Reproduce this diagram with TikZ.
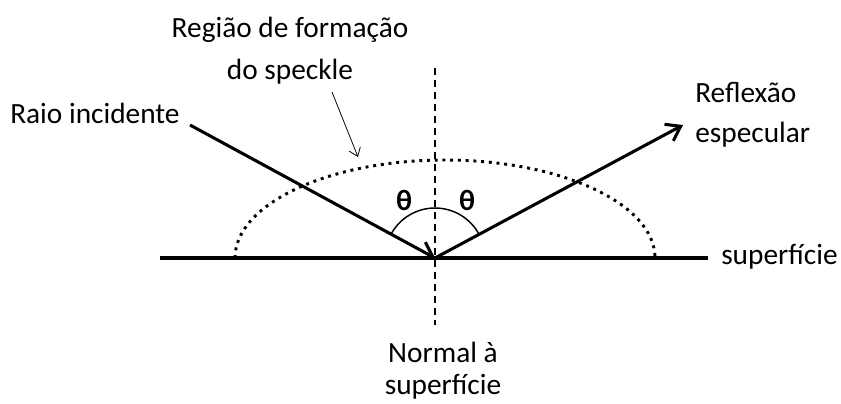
\documentclass[tikz,border=0pt]{standalone}
\usepackage{fontspec}
\setmainfont{Carlito}
\usetikzlibrary{arrows.meta}
\begin{document}
\begin{tikzpicture}[
  x=0.75pt, y=-0.75pt,
  every node/.style={font=\fontsize{22}{26}\selectfont, inner sep=0pt},
  surface/.style={line width=2.3pt},
  ray/.style={line width=2.3pt, -{Straight Barb[length=10pt,width=14pt]}},
  normal/.style={line width=1.3pt, dash pattern=on 5pt off 4pt},
  region/.style={line width=2.2pt, dash pattern=on 2.2pt off 3.6pt},
  anglemark/.style={line width=1.1pt},
  pointer/.style={line width=0.6pt, -{Straight Barb[length=6pt,width=9pt]}}
]
\useasboundingbox (0,0) rectangle (841,403);
\coordinate (O) at (435,258);
\coordinate (sl) at (160,258);
\coordinate (sr) at (708,258);
\coordinate (ntop) at (435,68);
\coordinate (nbot) at (435,325);
\coordinate (inc) at (190,125);
\coordinate (refl) at (683,125);
\coordinate (ptrs) at (332,92);
\coordinate (ptre) at (358,157);

\node[anchor=west] (raio) at (10,113) {Raio incidente};
\node[anchor=west] (refl1) at (695,93) {Reflexão};
\node[anchor=west] (refl2) at (695,135) {especular};
\node[anchor=west] (sup) at (721,257) {superfície};
\node (norm1) at (443,352) {Normal à};
\node (norm2) at (443,387) {superfície};
\node (reg1) at (290,30) {Região de formação};
\node (reg2) at (290,72) {do speckle};
\node (th1) at (404,200) {\textbf{θ}};
\node (th2) at (467,200) {\textbf{θ}};

% region and normal
\draw[region] (235,258) arc[start angle=180, end angle=360, x radius=210, y radius=98];
\draw[normal] (ntop) -- (nbot);
\draw[surface] (sl) -- (sr);

% rays
\draw[ray] (inc) -- (O);
\draw[ray] (O) -- (refl);

% angles
\draw[anglemark] (O) ++(208.5:50) arc[start angle=208.5, end angle=270, radius=50];
\draw[anglemark] (O) ++(270:50) arc[start angle=270, end angle=331.8, radius=50];

\draw[pointer] (ptrs) -- (ptre);
\end{tikzpicture}
\end{document}
